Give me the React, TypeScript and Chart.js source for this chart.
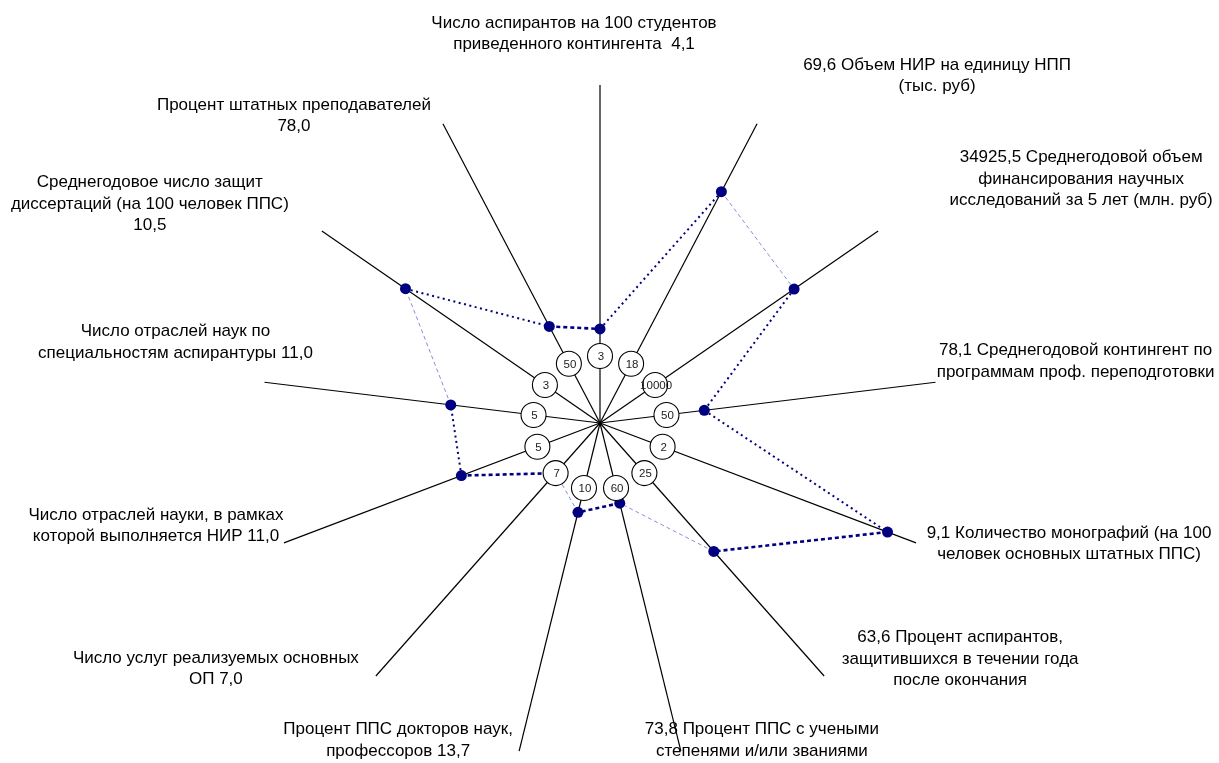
import React, { useEffect, useRef } from 'react';
import { Chart, registerables } from 'chart.js';

Chart.register(...registerables);

// ---- data ----
const CATEGORIES = [
  'Число аспирантов на 100 студентов приведенного контингента',
  'Объем НИР на единицу НПП (тыс. руб)',
  'Среднегодовой объем финансирования научных исследований за 5 лет (млн. руб)',
  'Среднегодовой контингент по программам проф. переподготовки',
  'Количество монографий (на 100 человек основных штатных ППС)',
  'Процент аспирантов, защитившихся в течении года после окончания',
  'Процент ППС с учеными степенями и/или званиями',
  'Процент ППС докторов наук, профессоров',
  'Число услуг реализуемых основных ОП',
  'Число отраслей науки, в рамках которой выполняется НИР',
  'Число отраслей наук по специальностям аспирантуры',
  'Среднегодовое число защит диссертаций (на 100 человек ППС)',
  'Процент штатных преподавателей',
];

const VALUES = [4.1, 69.6, 34925.5, 78.1, 9.1, 63.6, 73.8, 13.7, 7.0, 11.0, 11.0, 10.5, 78.0];
const AXIS_MIN = [3, 18, 10000, 50, 2, 25, 60, 10, 7, 5, 5, 3, 50];
const AXIS_MAX = [14, 90, 50000, 250, 10, 125, 300, 50, 20, 25, 24.5, 15, 230];

const LABEL_LINES = [
  ['Число аспирантов на 100 студентов', 'приведенного контингента  4,1'],
  ['69,6 Объем НИР на единицу НПП', '(тыс. руб)'],
  ['34925,5 Среднегодовой объем', 'финансирования научных', 'исследований за 5 лет (млн. руб)'],
  ['78,1 Среднегодовой контингент по', 'программам проф. переподготовки'],
  ['9,1 Количество монографий (на 100', 'человек основных штатных ППС)'],
  ['63,6 Процент аспирантов,', 'защитившихся в течении года', 'после окончания'],
  ['73,8 Процент ППС с учеными', 'степенями и/или званиями'],
  ['Процент ППС докторов наук,', 'профессоров 13,7'],
  ['Число услуг реализуемых основных', 'ОП 7,0'],
  ['Число отраслей науки, в рамках', 'которой выполняется НИР 11,0'],
  ['Число отраслей наук по', 'специальностям аспирантуры 11,0'],
  ['Среднегодовое число защит', 'диссертаций (на 100 человек ППС)', '10,5'],
  ['Процент штатных преподавателей', '78,0'],
];

// ---- layout / style (not data) ----
// offset of each label block centre from the outer end of its spoke
const LABEL_OFFSET: [number, number][] = [
  [-26, -51], [180, -48], [203, -52], [140, -21], [153, 1], [136, -17], [81, -11],
  [-121, -11], [-160, -7], [-128, -17], [-89, -40], [-172, -27], [-149, -8],
];
const SEG_STYLE = ['dot', 'light', 'dot', 'dot', 'dash', 'light', 'dash', 'light', 'dash', 'dot', 'light', 'dot', 'dash'];

const NAVY = '#000080';
const FONT = '"Liberation Sans", Arial, sans-serif';

function segProp(idx: number) {
  const s = SEG_STYLE[idx];
  if (s === 'dash') return { color: NAVY, width: 2.6, dash: [4, 3] };
  if (s === 'dot') return { color: NAVY, width: 2, dash: [2, 3.5] };
  return { color: '#8c8cdc', width: 1, dash: [4, 3] };
}

const overlayPlugin = {
  id: 'overlay',
  afterDatasetsDraw(chart: any) {
    const scale = chart.scales.r;
    const ctx = chart.ctx;
    const r0 = scale.getDistanceFromCenterForValue(0);
    const rEnd = scale.drawingArea;
    ctx.save();
    // circles with the minimum of each axis
    for (let i = 0; i < AXIS_MIN.length; i++) {
      const p = scale.getPointPosition(i, r0);
      ctx.beginPath();
      ctx.arc(p.x, p.y, 12.5, 0, Math.PI * 2);
      ctx.fillStyle = '#ffffff';
      ctx.fill();
      ctx.lineWidth = 1.1;
      ctx.strokeStyle = '#000000';
      ctx.setLineDash([]);
      ctx.stroke();
      ctx.fillStyle = '#222222';
      ctx.font = '11.5px ' + FONT;
      ctx.textAlign = 'center';
      ctx.textBaseline = 'middle';
      ctx.fillText(String(AXIS_MIN[i]), p.x + 1, p.y + 1);
    }
    // category labels
    const lh = 21.5;
    for (let i = 0; i < LABEL_LINES.length; i++) {
      const end = scale.getPointPosition(i, rEnd);
      const cx = end.x + LABEL_OFFSET[i][0];
      const cy = end.y + LABEL_OFFSET[i][1];
      const lines = LABEL_LINES[i];
      ctx.font = '17px ' + FONT;
      ctx.fillStyle = '#000000';
      ctx.textAlign = 'center';
      ctx.textBaseline = 'middle';
      lines.forEach((ln, k) => {
        ctx.fillText(ln, cx, cy + (k - (lines.length - 1) / 2) * lh);
      });
    }
    ctx.restore();
  },
};

export default function App() {
  const ref = useRef<HTMLCanvasElement | null>(null);
  useEffect(() => {
    if (!ref.current) return;
    const n = VALUES.length;
    const norm = VALUES.map((v, i) => (v - AXIS_MIN[i]) / (AXIS_MAX[i] - AXIS_MIN[i]));
    const segmentSets = SEG_STYLE.map((_, k) => {
      const st = segProp(k);
      return {
        data: norm.map((v, i) => (i === k || i === (k + 1) % n ? v : null)),
        fill: false,
        tension: 0,
        spanGaps: false,
        borderColor: st.color,
        borderWidth: st.width,
        borderDash: st.dash,
        borderCapStyle: 'butt',
        pointRadius: 0,
        pointHoverRadius: 0,
      } as any;
    });
    const chart = new Chart(ref.current, {
      type: 'radar',
      data: {
        labels: CATEGORIES,
        datasets: [
          {
            data: norm,
            showLine: false,
            fill: false,
            pointRadius: 5.5,
            pointHoverRadius: 5.5,
            pointBackgroundColor: NAVY,
            pointBorderColor: NAVY,
            pointBorderWidth: 0,
          } as any,
          ...segmentSets,
        ],
      },
      options: {
        animation: false,
        responsive: false,
        events: [],
        layout: { padding: { left: 0, right: 19, top: 85, bottom: 2 } },
        plugins: { legend: { display: false }, tooltip: { enabled: false } },
        scales: {
          r: {
            min: -0.247,
            max: 1,
            ticks: { display: false },
            grid: { display: false },
            pointLabels: { display: false },
            angleLines: { display: true, color: '#000000', lineWidth: 1.2 },
          },
        },
      },
      plugins: [overlayPlugin],
    });
    return () => chart.destroy();
  }, []);
  return (
    <div style={{ position: 'fixed', left: 0, top: 0, width: 1219, height: 763, background: '#fff' }}>
      <canvas ref={ref} width={1219} height={763} style={{ width: 1219, height: 763 }} />
    </div>
  );
}
